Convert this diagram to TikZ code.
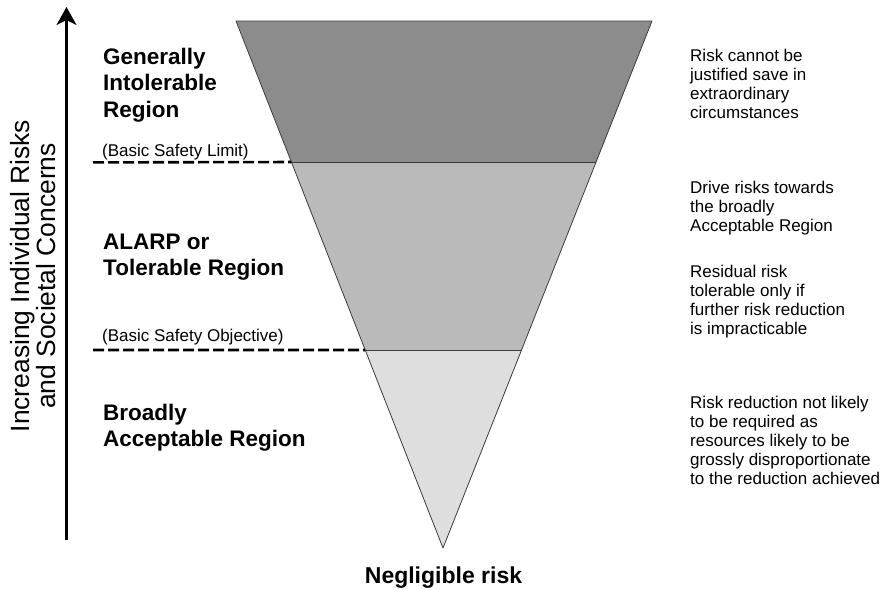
\documentclass[tikz,border=0pt]{standalone}
\usepackage{fontspec}
\setmainfont{Liberation Sans}
\usetikzlibrary{arrows.meta, positioning, calc}
\definecolor{DarkBand}{HTML}{8C8C8C}
\definecolor{MidBand}{HTML}{BABABA}
\definecolor{LightBand}{HTML}{DEDEDE}
\definecolor{EdgeGray}{HTML}{3C3C3C}
\tikzset{
  region/.style={anchor=base west, align=left, inner sep=0pt, font=\fontsize{22.5}{26.5}\selectfont\bfseries},
  limit/.style={anchor=base west, inner sep=0pt, font=\fontsize{17}{20}\selectfont},
  note/.style={anchor=base west, align=left, inner sep=0pt, font=\fontsize{17}{19.2}\selectfont},
  band/.style={draw=EdgeGray, line width=0.8pt, line join=round},
  limitline/.style={line width=2.6pt, dash pattern=on 11pt off 4pt},
  axis/.style={-{Stealth[length=18pt, width=20pt, inset=5pt]}, line width=2.6pt}
}

\begin{document}
\begin{tikzpicture}[x=1pt, y=-1pt]
\useasboundingbox (0,0) rectangle (883,589);

% the risk triangle and its three bands
\coordinate (tl) at (236,21);
\coordinate (tr) at (652,21);
\coordinate (apex) at (443,548);
\coordinate (l1) at ($(tl)!0.2676!(apex)$);
\coordinate (r1) at ($(tr)!0.2676!(apex)$);
\coordinate (l2) at ($(tl)!0.6243!(apex)$);
\coordinate (r2) at ($(tr)!0.6243!(apex)$);
\fill[DarkBand] (tl) -- (tr) -- (r1) -- (l1) -- cycle;
\fill[MidBand] (l1) -- (r1) -- (r2) -- (l2) -- cycle;
\fill[LightBand] (l2) -- (r2) -- (apex) -- cycle;
\draw[band] (tl) -- (tr) -- (apex) -- cycle;
\draw[band] (l1) -- (r1);
\draw[band] (l2) -- (r2);

% limits
\coordinate (bsl) at (93,162.4);
\coordinate (bso) at (93,350);
\draw[limitline] (bsl) -- (l1);
\draw[limitline] (bso) -- (l2);
\node[limit] (bsltext) at (102,156) {(Basic Safety Limit)};
\node[limit] (bsotext) at (102,341) {(Basic Safety Objective)};

% region names (anchored on the last line)
\node[region] (intol) at (103,117) {Generally\\Intolerable\\Region};
\node[region] (alarp) at (103,275.5) {ALARP or\\Tolerable Region};
\node[region] (broad) at (103,446.5) {Broadly\\Acceptable Region};

% axis
\coordinate (axbot) at (66.5,540);
\coordinate (axtop) at (66.5,7);
\draw[axis] (axbot) -- (axtop);
\node[rotate=90, align=center, inner sep=0pt, font=\fontsize{26.4}{24}\selectfont] (axlabel) at (33,276)
  {Increasing Individual Risks\\and Societal Concerns};

% notes on the right
\node[note] (note1) at (690,118.6) {Risk cannot be\\justified save in\\extraordinary\\circumstances};
\node[note] (note2) at (690,231.4) {Drive risks towards\\the broadly\\Acceptable Region};
\node[note] (note3) at (690,334.6) {Residual risk\\tolerable only if\\further risk reduction\\is impracticable};
\node[note] (note4) at (690,484.8) {Risk reduction not likely\\to be required as\\resources likely to be\\grossly disproportionate\\to the reduction achieved};

\node[anchor=base, inner sep=0pt, font=\fontsize{23}{26}\selectfont\bfseries] (negl) at (443.5,583) {Negligible risk};
\end{tikzpicture}
\end{document}
